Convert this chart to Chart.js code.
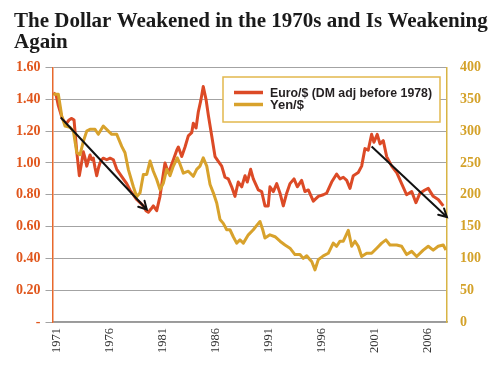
<!doctype html>
<html>

<head>
	<title>The Dollar Weakened in the 1970s and Is Weakening Again</title>
	<script src="https://cdn.jsdelivr.net/npm/chart.js@4/dist/chart.umd.min.js"></script>
	<style>
		body {
			margin: 0;
			background: #fff;
		}
		#holder {
			width: 500px;
			height: 365px;
		}
	</style>
</head>

<body>
	<div id="holder">
		<canvas id="chart-area"></canvas>
	</div>
	<script>
		const yearTicks = [1971, 1976, 1981, 1986, 1991, 1996, 2001, 2006];

		const euroDates = [1970.68, 1970.93, 1971.15, 1971.47, 1971.69, 1971.94, 1972.16, 1972.41, 1972.63, 1972.89,
			1973.13, 1973.34, 1973.51, 1973.67, 1973.83, 1974.00, 1974.14, 1974.30, 1974.45, 1974.61,
			1974.77, 1974.94, 1975.08, 1975.24, 1975.39, 1975.72, 1976.03, 1976.34, 1976.66, 1976.97,
			1977.28, 1977.60, 1977.91, 1978.22, 1978.54, 1978.86, 1979.17, 1979.42, 1979.64, 1979.89,
			1980.11, 1980.43, 1980.74, 1980.98, 1981.21, 1981.52, 1981.68, 1982.00, 1982.32, 1982.47,
			1982.79, 1983.10, 1983.41, 1983.73, 1983.88, 1984.14, 1984.35, 1984.58, 1984.82, 1985.08,
			1985.30, 1985.62, 1985.93, 1986.24, 1986.56, 1986.87, 1987.18, 1987.50, 1987.81, 1988.12,
			1988.45, 1988.76, 1988.97, 1989.29, 1989.54, 1990.01, 1990.33, 1990.64, 1990.95, 1991.11,
			1991.43, 1991.75, 1992.06, 1992.37, 1992.69, 1993.00, 1993.38, 1993.69, 1994.10, 1994.41,
			1994.73, 1995.20, 1995.67, 1996.14, 1996.46, 1996.93, 1997.40, 1997.72, 1998.03, 1998.35,
			1998.66, 1998.97, 1999.44, 1999.76, 2000.07, 2000.38, 2000.70, 2000.92, 2001.23, 2001.49,
			2001.80, 2002.12, 2002.59, 2003.06, 2003.53, 2004.00, 2004.48, 2004.88, 2005.26, 2005.73,
			2006.04, 2006.51, 2006.98, 2007.46];
		const euroRates = [1.44, 1.43, 1.36, 1.29, 1.26, 1.25, 1.27, 1.28, 1.27, 1.07,
			0.92, 1.00, 1.07, 1.03, 0.98, 1.02, 1.05, 1.02, 1.03, 0.97,
			0.92, 0.97, 1.00, 1.02, 1.03, 1.02, 1.03, 1.02, 0.96, 0.93,
			0.90, 0.87, 0.83, 0.80, 0.77, 0.75, 0.73, 0.70, 0.69, 0.71,
			0.73, 0.70, 0.79, 0.90, 1.00, 0.94, 0.96, 1.02, 1.08, 1.10,
			1.04, 1.10, 1.17, 1.19, 1.25, 1.22, 1.32, 1.39, 1.48, 1.40,
			1.30, 1.17, 1.04, 1.01, 0.98, 0.91, 0.90, 0.85, 0.79, 0.88,
			0.85, 0.92, 0.88, 0.96, 0.90, 0.83, 0.82, 0.73, 0.73, 0.85,
			0.82, 0.87, 0.81, 0.73, 0.81, 0.87, 0.90, 0.85, 0.89, 0.82,
			0.83, 0.76, 0.79, 0.80, 0.81, 0.88, 0.93, 0.90, 0.91, 0.89,
			0.84, 0.92, 0.94, 0.98, 1.09, 1.08, 1.18, 1.13, 1.18, 1.12,
			1.14, 1.04, 0.98, 0.94, 0.87, 0.80, 0.82, 0.75, 0.81, 0.83,
			0.84, 0.79, 0.77, 0.73];

		const yenDates = [1970.68, 1971.15, 1971.47, 1971.78, 1972.25, 1972.57, 1972.89, 1973.20, 1973.51, 1973.83,
			1974.14, 1974.61, 1974.92, 1975.39, 1975.87, 1976.19, 1976.66, 1977.13, 1977.44, 1977.75,
			1978.22, 1978.54, 1978.86, 1979.17, 1979.49, 1979.80, 1980.11, 1980.43, 1980.74, 1981.05,
			1981.37, 1981.68, 1982.00, 1982.37, 1982.63, 1982.94, 1983.41, 1983.88, 1984.20, 1984.51,
			1984.82, 1985.15, 1985.46, 1985.77, 1986.09, 1986.40, 1986.71, 1987.03, 1987.34, 1987.65,
			1987.97, 1988.28, 1988.60, 1989.07, 1989.54, 1989.92, 1990.17, 1990.43, 1990.64, 1991.11,
			1991.59, 1992.06, 1992.53, 1993.00, 1993.47, 1993.94, 1994.25, 1994.58, 1994.89, 1995.05,
			1995.36, 1995.67, 1996.14, 1996.61, 1997.08, 1997.40, 1997.72, 1998.03, 1998.50, 1998.82,
			1999.13, 1999.44, 1999.76, 2000.23, 2000.70, 2001.18, 2001.65, 2002.05, 2002.43, 2003.06,
			2003.53, 2004.00, 2004.48, 2004.95, 2005.57, 2006.04, 2006.51, 2006.98, 2007.46, 2007.71];
		const yenRates = [358, 358, 324, 308, 306, 300, 266, 263, 284, 300,
			303, 303, 295, 308, 300, 295, 295, 276, 266, 240,
			213, 197, 203, 232, 232, 253, 237, 224, 208, 218,
			240, 230, 245, 258, 248, 234, 237, 229, 240, 245,
			258, 245, 216, 203, 187, 161, 155, 145, 145, 134,
			124, 129, 124, 137, 145, 153, 158, 145, 132, 137,
			134, 127, 121, 116, 106, 106, 100, 104, 98, 95,
			82, 98, 104, 108, 124, 119, 127, 127, 144, 119,
			127, 119, 103, 108, 108, 116, 124, 129, 121, 121,
			119, 106, 111, 103, 113, 119, 113, 119, 121, 113];

		// trend arrows, on the euro scale
		const trend70sDates = [1971.38, 1979.49];
		const trend70sRates = [1.286, 0.707];
		const trend00sDates = [2000.70, 2007.80];
		const trend00sRates = [1.103, 0.66];

		const toPoints = (xs, ys) => xs.map((x, i) => ({x: x, y: ys[i]}));

		const EURO = '#dc4a26';
		const YEN = '#d8a22c';

		// open arrow head on the last segment of datasets flagged with arrow
		const arrowHeads = {
			id: 'arrowHeads',
			afterDatasetsDraw(chart) {
				const ctx = chart.ctx;
				chart.data.datasets.forEach((ds, i) => {
					if (!ds.arrow) return;
					const pts = chart.getDatasetMeta(i).data;
					const a = pts[pts.length - 2];
					const b = pts[pts.length - 1];
					const ang = Math.atan2(b.y - a.y, b.x - a.x);
					const len = 9;
					ctx.save();
					ctx.strokeStyle = ds.borderColor;
					ctx.lineWidth = 2;
					ctx.lineCap = 'round';
					ctx.beginPath();
					ctx.moveTo(b.x - len * Math.cos(ang - 0.5), b.y - len * Math.sin(ang - 0.5));
					ctx.lineTo(b.x, b.y);
					ctx.lineTo(b.x - len * Math.cos(ang + 0.5), b.y - len * Math.sin(ang + 0.5));
					ctx.stroke();
					ctx.restore();
				});
			}
		};

		// boxed legend inside the plot, like the original
		const boxLegend = {
			id: 'boxLegend',
			afterDatasetsDraw(chart, args, opts) {
				const ctx = chart.ctx;
				ctx.save();
				ctx.fillStyle = '#fff';
				ctx.fillRect(opts.left, opts.top, opts.width, opts.height);
				ctx.strokeStyle = '#e2b84e';
				ctx.lineWidth = 1.5;
				ctx.strokeRect(opts.left, opts.top, opts.width, opts.height);
				ctx.font = 'bold 13px "Liberation Sans", Arial, sans-serif';
				ctx.textBaseline = 'middle';
				chart.data.datasets.filter(ds => !ds.arrow).forEach((ds, i) => {
					const cy = opts.top + 15.5 + i * 12;
					ctx.strokeStyle = ds.borderColor;
					ctx.lineWidth = 3.5;
					ctx.beginPath();
					ctx.moveTo(opts.left + 11, cy);
					ctx.lineTo(opts.left + 40, cy);
					ctx.stroke();
					ctx.fillStyle = '#231f20';
					ctx.fillText(ds.label, opts.left + 47, cy + 0.5, 162);
				});
				ctx.restore();
			}
		};

		const config = {
			type: 'line',
			data: {
				datasets: [{
					label: 'Trend 1970s',
					arrow: true,
					data: toPoints(trend70sDates, trend70sRates),
					yAxisID: 'y',
					borderColor: '#111',
					borderWidth: 2,
					pointRadius: 0,
					clip: false,
					order: 0
				}, {
					label: 'Trend 2000s',
					arrow: true,
					data: toPoints(trend00sDates, trend00sRates),
					yAxisID: 'y',
					borderColor: '#111',
					borderWidth: 2,
					pointRadius: 0,
					clip: false,
					order: 0
				}, {
					label: 'Euro/$ (DM adj before 1978)',
					data: toPoints(euroDates, euroRates),
					yAxisID: 'y',
					borderColor: EURO,
					borderWidth: 3,
					borderJoinStyle: 'round',
					pointRadius: 0,
					order: 2
				}, {
					label: 'Yen/$',
					data: toPoints(yenDates, yenRates),
					yAxisID: 'y2',
					borderColor: YEN,
					borderWidth: 3,
					borderJoinStyle: 'round',
					pointRadius: 0,
					order: 1
				}]
			},
			options: {
				responsive: true,
				maintainAspectRatio: false,
				animation: false,
				layout: {
					padding: {left: 14, right: 0, top: 0, bottom: 0}
				},
				plugins: {
					legend: {display: false},
					tooltip: {enabled: false},
					title: {
						display: true,
						align: 'start',
						text: ['The Dollar Weakened in the 1970s and Is Weakening', 'Again'],
						color: '#1a1a1a',
						font: {family: '"Liberation Serif", "Times New Roman", serif', size: 21, weight: 'bold', lineHeight: '21px'},
						padding: {top: 11, bottom: 14.5}
					},
					boxLegend: {left: 223, top: 77, width: 217, height: 45}
				},
				scales: {
					x: {
						type: 'linear',
						min: 1970.6,
						max: 2007.81,
						afterBuildTicks: (scale) => {
							scale.ticks = yearTicks.map(v => ({value: v}));
						},
						afterFit: (scale) => {
							scale.height = 43;
						},
						grid: {display: false, drawTicks: false},
						border: {display: true, color: '#9a9a9a', width: 1.5},
						ticks: {
							autoSkip: false,
							minRotation: 90,
							maxRotation: 90,
							padding: 6,
							color: '#333',
							font: {family: '"Liberation Serif", "Times New Roman", serif', size: 12.5},
							callback: (v) => String(v)
						}
					},
					y: {
						position: 'left',
						min: 0,
						max: 1.6,
						afterFit: (scale) => {
							scale.width = 38.5;
						},
						grid: {color: '#a3a3a3', lineWidth: 1, tickLength: 7, drawTicks: true},
						border: {color: '#e8692c', width: 1.5},
						ticks: {
							stepSize: 0.2,
							padding: 5,
							color: '#e0561c',
							font: {family: '"Liberation Serif", "Times New Roman", serif', size: 14, weight: 'bold'},
							callback: (v) => v === 0 ? '-' : v.toFixed(2)
						}
					},
					y2: {
						position: 'right',
						min: 0,
						max: 400,
						afterFit: (scale) => {
							scale.width = 53;
						},
						grid: {display: false, drawTicks: false},
						border: {color: '#d8b444', width: 1.5},
						ticks: {
							stepSize: 50,
							padding: 13,
							color: '#d4a22a',
							font: {family: '"Liberation Serif", "Times New Roman", serif', size: 14, weight: 'bold'},
							callback: (v) => String(v)
						}
					}
				}
			},
			plugins: [arrowHeads, boxLegend]
		};

		window.onload = function() {
			const ctx = document.getElementById('chart-area');
			window.dollarChart = new Chart(ctx, config);
		};
	</script>
</body>

</html>
